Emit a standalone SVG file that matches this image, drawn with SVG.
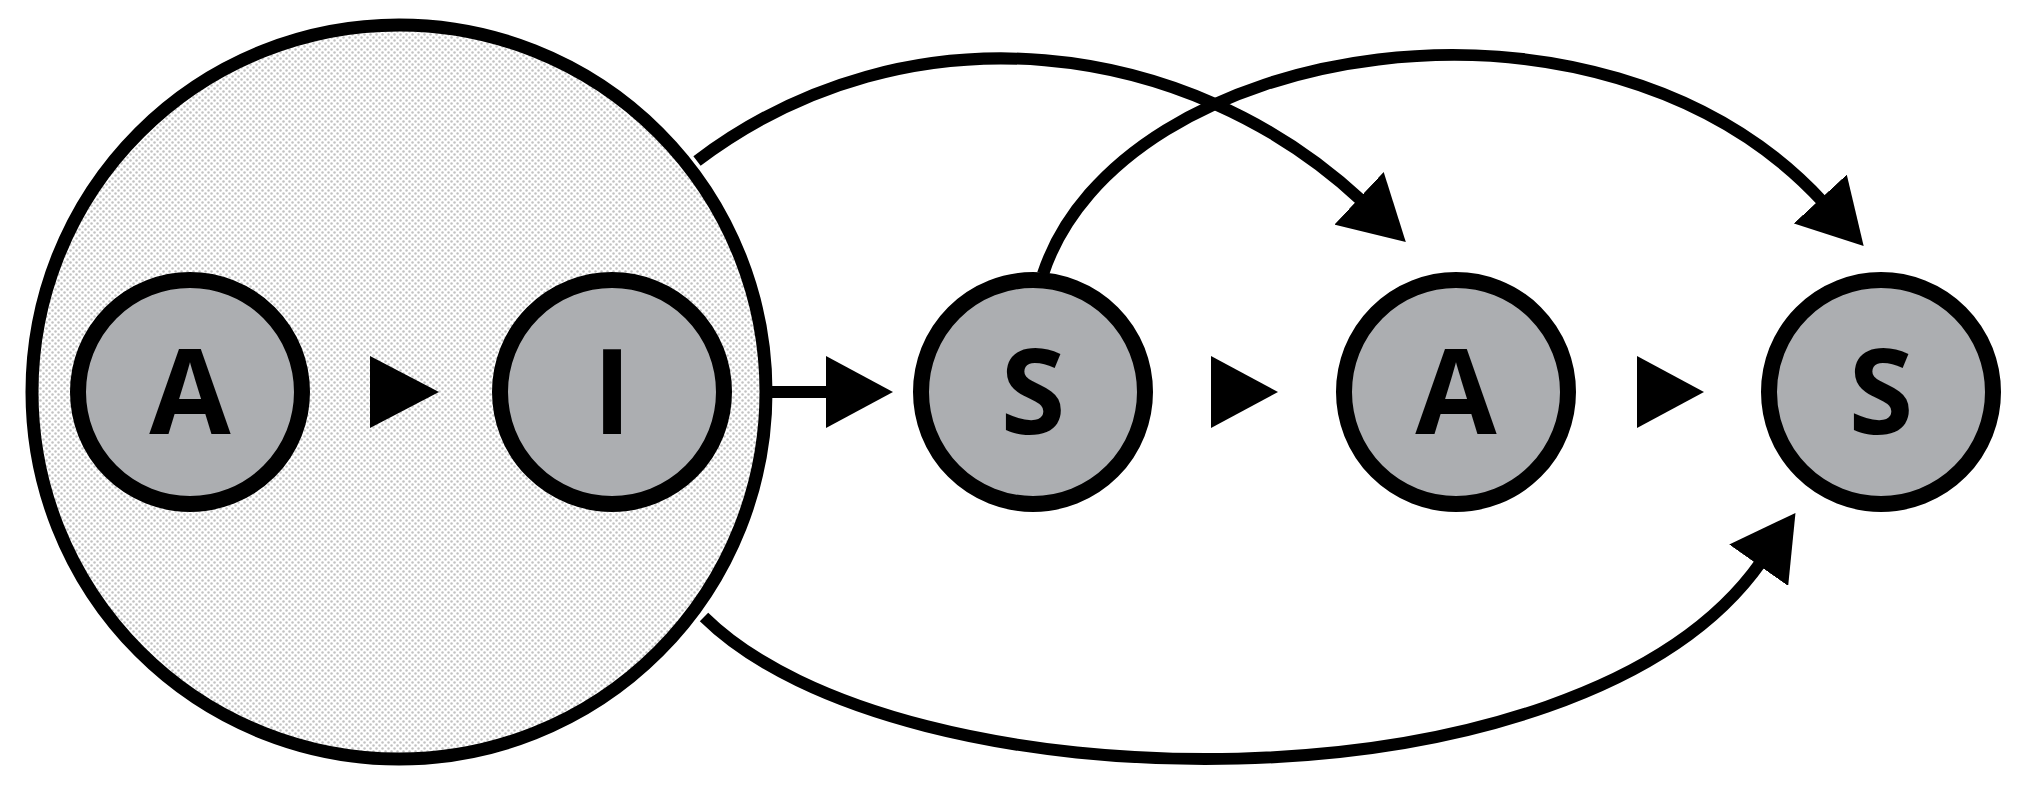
<svg xmlns="http://www.w3.org/2000/svg" width="2024" height="802" viewBox="0 0 2024 802">
<defs>
<pattern id="dots" width="6" height="6" patternUnits="userSpaceOnUse">
<rect width="6" height="6" fill="#ffffff"/>
<circle cx="1.5" cy="1.5" r="1.25" fill="#c2c2c2"/>
<circle cx="4.5" cy="4.5" r="1.25" fill="#c2c2c2"/>
</pattern>
<marker id="head" markerUnits="userSpaceOnUse" markerWidth="70" markerHeight="72" refX="4" refY="36" orient="auto" viewBox="0 0 70 72">
<path d="M0,0 L64,36 L0,72 Z" fill="#000"/>
</marker>
</defs>
<style>
.node circle{fill:#acaeb1;stroke:#000;stroke-width:16}
.node text{font-family:"Open Sans","Liberation Sans",sans-serif;font-weight:700;font-size:118px;fill:#000;text-anchor:middle}
.edge{fill:none;stroke:#000;stroke-width:12}
.tri{fill:#000}
</style>
<rect width="2024" height="802" fill="#ffffff"/>
<g id="group-AI">
<circle cx="399" cy="392" r="367" fill="url(#dots)" stroke="#000" stroke-width="13"/>
</g>
<g id="node-A1" class="node"><circle cx="190" cy="392" r="112"/><text x="190" y="434">A</text></g>
<g id="node-I" class="node"><circle cx="612" cy="392" r="112"/><text x="612" y="434">I</text></g>
<g id="node-S1" class="node"><circle cx="1033" cy="392" r="112"/><text x="1033" y="434">S</text></g>
<g id="node-A2" class="node"><circle cx="1456" cy="392" r="112"/><text x="1456" y="434">A</text></g>
<g id="node-S2" class="node"><circle cx="1881" cy="392" r="112"/><text x="1881" y="434">S</text></g>
<g id="connectors">
<polygon class="tri" points="370,356 439,392 370,428"/>
<line class="edge" x1="772" y1="392" x2="830" y2="392"/>
<polygon class="tri" points="826,356 893,392 826,428"/>
<polygon class="tri" points="1211,356 1278,392 1211,428"/>
<polygon class="tri" points="1637,356 1704,392 1637,428"/>
<path class="edge" d="M697,161 C910,0 1190,40 1362,201" marker-end="url(#head)"/>
<path class="edge" d="M1043,274 C1120,40 1600,-40 1823,202" marker-end="url(#head)"/>
<path class="edge" d="M704,617 C900,810 1580,820 1761,562" marker-end="url(#head)"/>
</g>
</svg>
